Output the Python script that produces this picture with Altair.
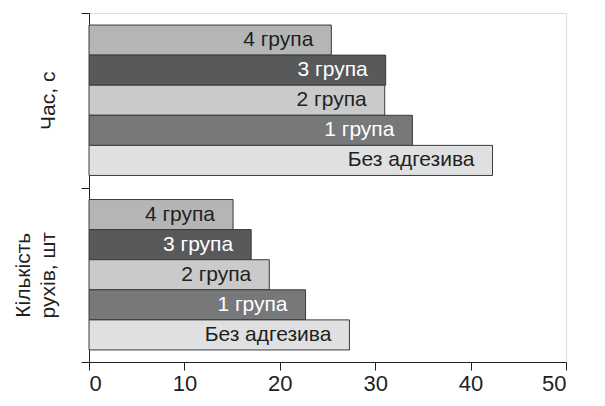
import altair as alt
import pandas as pd

categories = ["Час, с", "Кількість\nрухів, шт"]
groups = ["4 група", "3 група", "2 група", "1 група", "Без адгезива"]
time_values = [25.4, 31.1, 31.0, 33.9, 42.3]
moves_values = [15.1, 17.0, 18.9, 22.7, 27.3]
bar_colors = ["#b4b6b6", "#58595b", "#c9caca", "#77787a", "#dfe0e1"]

rows = []
for g, v in zip(groups, time_values):
    rows.append({"cat": categories[0], "group": g, "value": v})
for g, v in zip(groups, moves_values):
    rows.append({"cat": categories[1], "group": g, "value": v})
df = pd.DataFrame(rows)

FONT = "Liberation Sans"

y_enc = alt.Y(
    "cat:N",
    sort=categories,
    scale=alt.Scale(paddingInner=0, paddingOuter=0),
    axis=alt.Axis(
        title=None,
        tickBand="extent",
        labelAngle=-90,
        labelAlign="center",
        labelBaseline="bottom",
        labelExpr="length(split(datum.label, '\\n')) > 1 ? split(datum.label, '\\n') : ['', datum.label]",
        labelLineHeight=25,
        labelFontSize=21,
        labelPadding=48,
        tickSize=8,
        labelColor="#231f20",
        domainColor="#231f20",
        tickColor="#231f20",
    ),
)
yoff_enc = alt.YOffset(
    "group:N",
    sort=groups,
    scale=alt.Scale(paddingInner=0, paddingOuter=0.4),
)
x_enc = alt.X(
    "value:Q",
    scale=alt.Scale(domain=[0, 50], nice=False),
    axis=alt.Axis(
        title=None,
        values=[0, 10, 20, 30, 40, 50],
        grid=False,
        tickSize=8,
        labelFontSize=22,
        labelPadding=3,
        labelColor="#231f20",
        domainColor="#231f20",
        tickColor="#231f20",
    ),
)

bars = alt.Chart(df).mark_bar(stroke="#3a3a3a", strokeWidth=1).encode(
    x=x_enc,
    y=y_enc,
    yOffset=yoff_enc,
    color=alt.Color("group:N", sort=groups,
                    scale=alt.Scale(domain=groups, range=bar_colors), legend=None),
)

labels = alt.Chart(df).mark_text(align="right", baseline="middle", dx=-18,
                                  fontSize=21, font=FONT).encode(
    x=alt.X("value:Q"),
    y=alt.Y("cat:N", sort=categories),
    yOffset=alt.YOffset("group:N", sort=groups),
    text="group:N",
    color=alt.condition(
        alt.FieldOneOfPredicate(field="group", oneOf=["3 група", "1 група"]),
        alt.value("white"), alt.value("#231f20")),
)

chart = alt.layer(bars, labels).properties(
    width=477, height=349,
    autosize=alt.AutoSizeParams(type="none"),
    padding={"left": 81, "top": 5, "right": 25, "bottom": 40},
).configure_view(fill="#ebecec", stroke=None).configure(font=FONT)

chart.save("out.html", embed_options={"renderer": "svg", "actions": False})
